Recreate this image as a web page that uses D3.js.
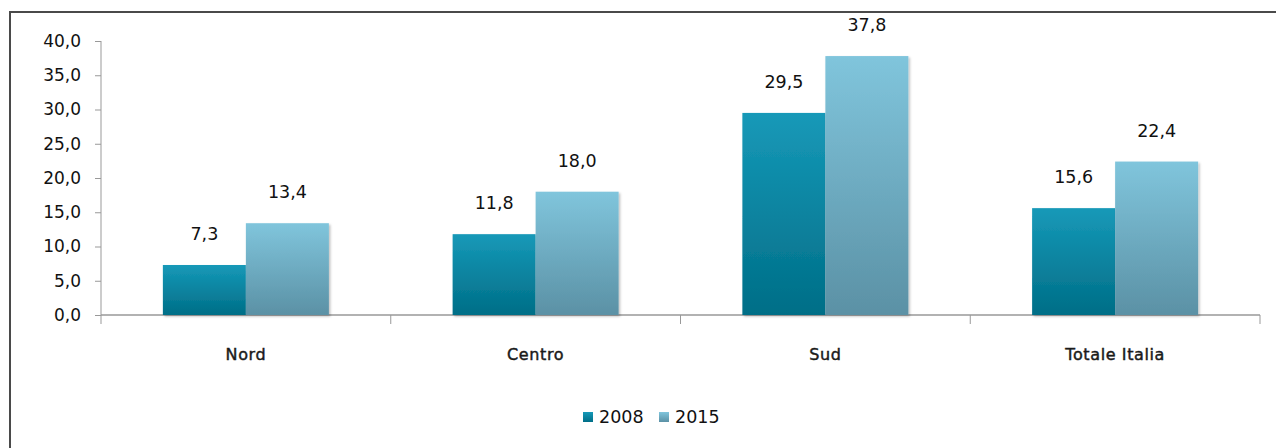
<!DOCTYPE html>
<html><head><meta charset="utf-8">
<script src="https://cdn.jsdelivr.net/npm/d3@7"></script>
<style>body{margin:0;background:#fff;overflow:hidden}svg{display:block}</style>
</head><body>
<svg id="c" width="1276" height="448"></svg>
<script>
const categories = ["Nord", "Centro", "Sud", "Totale Italia"];
const seriesNames = ["2008", "2015"];
const values2008 = [7.3, 11.8, 29.5, 15.6];
const values2015 = [13.4, 18.0, 37.8, 22.4];
const yTicks = [0, 5, 10, 15, 20, 25, 30, 35, 40];

const svg = d3.select("#c");
const fmt = v => d3.format(".1f")(v).replace(".", ",");

const defs = svg.append("defs");
const grads = [["g2008", "#1699b8", "#006e87"], ["g2015", "#80c5dc", "#5b91a5"]];
grads.forEach(([id, a, b]) => {
  const g = defs.append("linearGradient").attr("id", id).attr("x1", 0).attr("y1", 0).attr("x2", 0).attr("y2", 1);
  g.append("stop").attr("offset", "0%").attr("stop-color", a);
  g.append("stop").attr("offset", "100%").attr("stop-color", b);
});
const f = defs.append("filter").attr("id", "sh").attr("x", "-10%").attr("y", "-10%").attr("width", "130%").attr("height", "130%");
f.append("feDropShadow").attr("dx", 1.5).attr("dy", 1.5).attr("stdDeviation", 1.2).attr("flood-color", "#000").attr("flood-opacity", 0.25);

// frame
svg.append("rect").attr("x", 10).attr("y", 12).attr("width", 1300).attr("height", 460)
  .attr("fill", "none").attr("stroke", "#4a4a4a").attr("stroke-width", 2);

const x0 = 101, x1 = 1260, yTop = 41, yBase = 315;
const p = 1 - 166 / ((x1 - x0) / 4);
const x = d3.scaleBand().domain(categories).range([x0, x1]).paddingInner(p).paddingOuter(p / 2);
const xs = d3.scaleBand().domain(seriesNames).range([0, x.bandwidth()]);
const y = d3.scaleLinear().domain([0, 40]).range([yBase, yTop]);

// y axis
const yAxis = svg.append("g").attr("transform", `translate(${x0},0)`)
  .call(d3.axisLeft(y).tickValues(yTicks).tickFormat(fmt).tickSize(6).tickPadding(14));
yAxis.select(".domain").remove();
yAxis.selectAll(".tick line").attr("stroke", "#999");
yAxis.selectAll(".tick text").attr("font-family", "DejaVu Sans").attr("font-size", 17).attr("fill", "#111");
svg.append("line").attr("x1", x0).attr("x2", x0).attr("y1", yTop).attr("y2", yBase + 9).attr("stroke", "#999");

// x axis baseline + separators
svg.append("line").attr("x1", x0).attr("x2", x1).attr("y1", yBase).attr("y2", yBase).attr("stroke", "#999").attr("stroke-width", 1.5);
const step = x.step();
const seps = d3.range(1, categories.length + 1).map(i => x0 + i * step);
svg.selectAll(".sep").data(seps).join("line").attr("x1", d => d).attr("x2", d => d)
  .attr("y1", yBase).attr("y2", yBase + 9).attr("stroke", "#999");

// category labels
svg.selectAll(".cat").data(categories).join("text")
  .attr("x", d => x(d) + x.bandwidth() / 2).attr("y", 360)
  .attr("text-anchor", "middle").attr("font-family", "DejaVu Sans")
  .attr("font-size", 16).attr("letter-spacing", 0.6).attr("fill", "#1a1a1a")
  .attr("stroke", "#1a1a1a").attr("stroke-width", 0.45).text(d => d);

// bars
const data = [];
categories.forEach((c, i) => {
  data.push({ c, s: "2008", v: values2008[i] });
  data.push({ c, s: "2015", v: values2015[i] });
});
svg.append("g").selectAll("rect").data(data).join("rect")
  .attr("x", d => x(d.c) + xs(d.s)).attr("width", xs.bandwidth())
  .attr("y", d => y(d.v)).attr("height", d => y(0) - y(d.v))
  .attr("fill", d => `url(#g${d.s})`).attr("filter", "url(#sh)");

// value labels
svg.append("g").selectAll("text").data(data).join("text")
  .attr("x", d => x(d.c) + xs(d.s) + xs.bandwidth() / 2).attr("y", d => y(d.v) - 25)
  .attr("text-anchor", "middle").attr("font-family", "DejaVu Sans").attr("font-size", 17.5)
  .attr("fill", "#111").text(d => fmt(d.v));

// legend
const leg = svg.append("g");
const legX = [583, 659];
seriesNames.forEach((s, i) => {
  leg.append("rect").attr("x", legX[i]).attr("y", 412).attr("width", 10).attr("height", 10).attr("fill", `url(#g${s})`);
  leg.append("text").attr("x", legX[i] + 16).attr("y", 423).attr("font-family", "DejaVu Sans")
    .attr("font-size", 17.5).attr("fill", "#111").text(s);
});
</script>
</body></html>
